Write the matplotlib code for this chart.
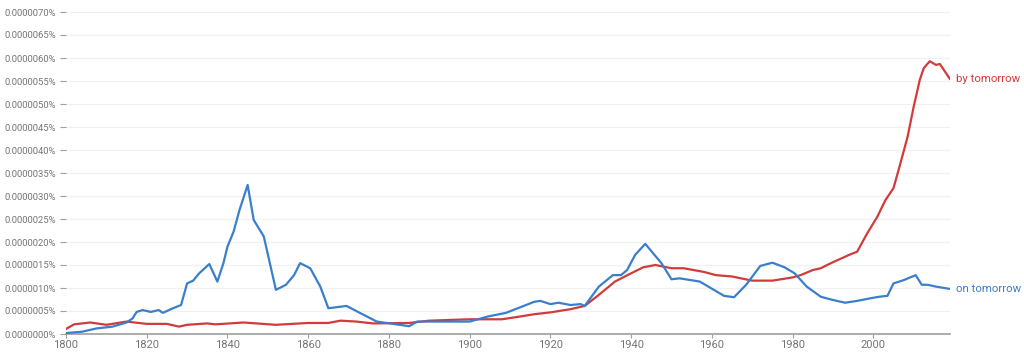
import matplotlib
matplotlib.use("Agg")
import matplotlib.pyplot as plt
import numpy as np

plt.rcParams['font.family'] = ['Roboto', 'DejaVu Sans']

# values in units of 0.0000001 %
on_years = [1800, 1804, 1807.5, 1811.5, 1815, 1816.5, 1817.5, 1819, 1821, 1823, 1824, 1826.5,
            1828.5, 1830, 1831.5, 1833, 1835.5, 1837.5, 1839, 1840, 1841.5, 1843, 1845, 1846.5,
            1849, 1850.5, 1852, 1854.5, 1856.5, 1858, 1860.5, 1863, 1865, 1869.5, 1873, 1877,
            1881, 1885, 1887, 1894, 1900, 1904.5, 1909, 1912.5, 1916, 1917.5, 1920, 1922, 1925,
            1927.5, 1928.5, 1932, 1935.5, 1937.5, 1939, 1941, 1943.5, 1945.5, 1947.5, 1950,
            1952, 1957, 1960.5, 1963, 1965.5, 1968.5, 1972, 1975, 1978, 1980.5, 1983.5, 1987,
            1989.5, 1993, 1996, 1999.5, 2001.5, 2003.5, 2005, 2007.5, 2010.5, 2012, 2013.5,
            2015.5, 2019]
on_vals = [0.2, 0.5, 1.2, 1.6, 2.5, 3.4, 4.8, 5.2, 4.8, 5.2, 4.6, 5.6,
           6.3, 11.0, 11.6, 13.2, 15.2, 11.4, 15.4, 19.0, 22.2, 27.0, 32.4, 24.8,
           21.2, 15.4, 9.6, 10.7, 12.8, 15.4, 14.3, 10.3, 5.6, 6.1, 4.5, 2.7,
           2.2, 1.7, 2.7, 2.7, 2.7, 3.8, 4.6, 5.8, 7.0, 7.2, 6.5, 6.8, 6.3,
           6.5, 6.1, 10.3, 12.8, 12.8, 13.9, 17.2, 19.6, 17.5, 15.4, 11.9,
           12.1, 11.4, 9.6, 8.3, 8.0, 10.7, 14.8, 15.5, 14.5, 13.2, 10.3, 8.1,
           7.5, 6.8, 7.2, 7.8, 8.1, 8.3, 11.0, 11.7, 12.8, 10.7, 10.7,
           10.3, 9.8]

by_years = [1800, 1802, 1806, 1810, 1815, 1820, 1825, 1828, 1830, 1835, 1837, 1844, 1852,
            1860, 1865, 1868, 1872, 1876, 1885, 1890, 1900, 1908, 1912.5, 1916, 1920, 1925,
            1928.5, 1932, 1936, 1940, 1943, 1946, 1950, 1953, 1958, 1961, 1965, 1970, 1975,
            1980, 1982, 1985, 1987, 1989.5, 1994, 1996, 1998.5, 2001, 2003, 2005, 2006.5,
            2008.5, 2010, 2011.5, 2012.5, 2014, 2015.5, 2016.5, 2019]
by_vals = [1.1, 2.1, 2.5, 2.0, 2.7, 2.2, 2.2, 1.6, 2.0, 2.3, 2.1, 2.5, 2.0,
           2.4, 2.4, 2.9, 2.7, 2.3, 2.4, 2.9, 3.2, 3.2, 3.8, 4.3, 4.7, 5.4,
           6.1, 8.5, 11.4, 13.2, 14.5, 15.0, 14.3, 14.3, 13.5, 12.8, 12.5, 11.6, 11.6,
           12.3, 12.8, 13.9, 14.3, 15.4, 17.2, 17.9, 21.9, 25.5, 29.1, 31.7, 36.4,
           42.9, 49.4, 55.2, 57.8, 59.3, 58.5, 58.7, 55.4]

blue = '#3a7fcb'
red = '#d13b3b'

fig = plt.figure(figsize=(10.24, 3.53), dpi=100)
ax = fig.add_axes([66 / 1024, 1 - 334 / 353, (950 - 66) / 1024, (334 - 12) / 353])

ax.plot(by_years, by_vals, color=red, lw=1.6, solid_capstyle='round', zorder=3)
ax.plot(on_years, on_vals, color=blue, lw=1.6, solid_capstyle='round', zorder=3)

ax.annotate('by tomorrow', (by_years[-1], by_vals[-1]), xytext=(4, 0),
            textcoords='offset points', va='center', ha='left', color=red,
            fontsize=8.2, annotation_clip=False)
ax.annotate('on tomorrow', (on_years[-1], on_vals[-1]), xytext=(4, 0),
            textcoords='offset points', va='center', ha='left', color=blue,
            fontsize=8.2, annotation_clip=False)

ax.set_xlim(1800, 2019)
ax.set_ylim(0, 70)
yt = np.arange(0, 71, 5)
ax.set_yticks(yt)
ax.set_yticklabels([f'{v * 1e-7:.7f}%' for v in yt])
ax.set_xticks(np.arange(1800, 2001, 20))
ax.grid(axis='y', color='#f1f1f1', lw=0.9)
ax.set_axisbelow(True)

for s in ['top', 'right', 'left']:
    ax.spines[s].set_visible(False)
ax.spines['bottom'].set_color('#9e9e9e')
ax.spines['bottom'].set_linewidth(1.2)

ax.tick_params(axis='y', length=4, width=0.8, color='#9e9e9e', labelcolor='#757575',
               labelsize=6.8, pad=3)
ax.tick_params(axis='x', length=3, width=0.8, color='#9e9e9e', labelcolor='#757575',
               labelsize=8, pad=1)

fig.savefig('out.png', dpi=100, facecolor='white')
